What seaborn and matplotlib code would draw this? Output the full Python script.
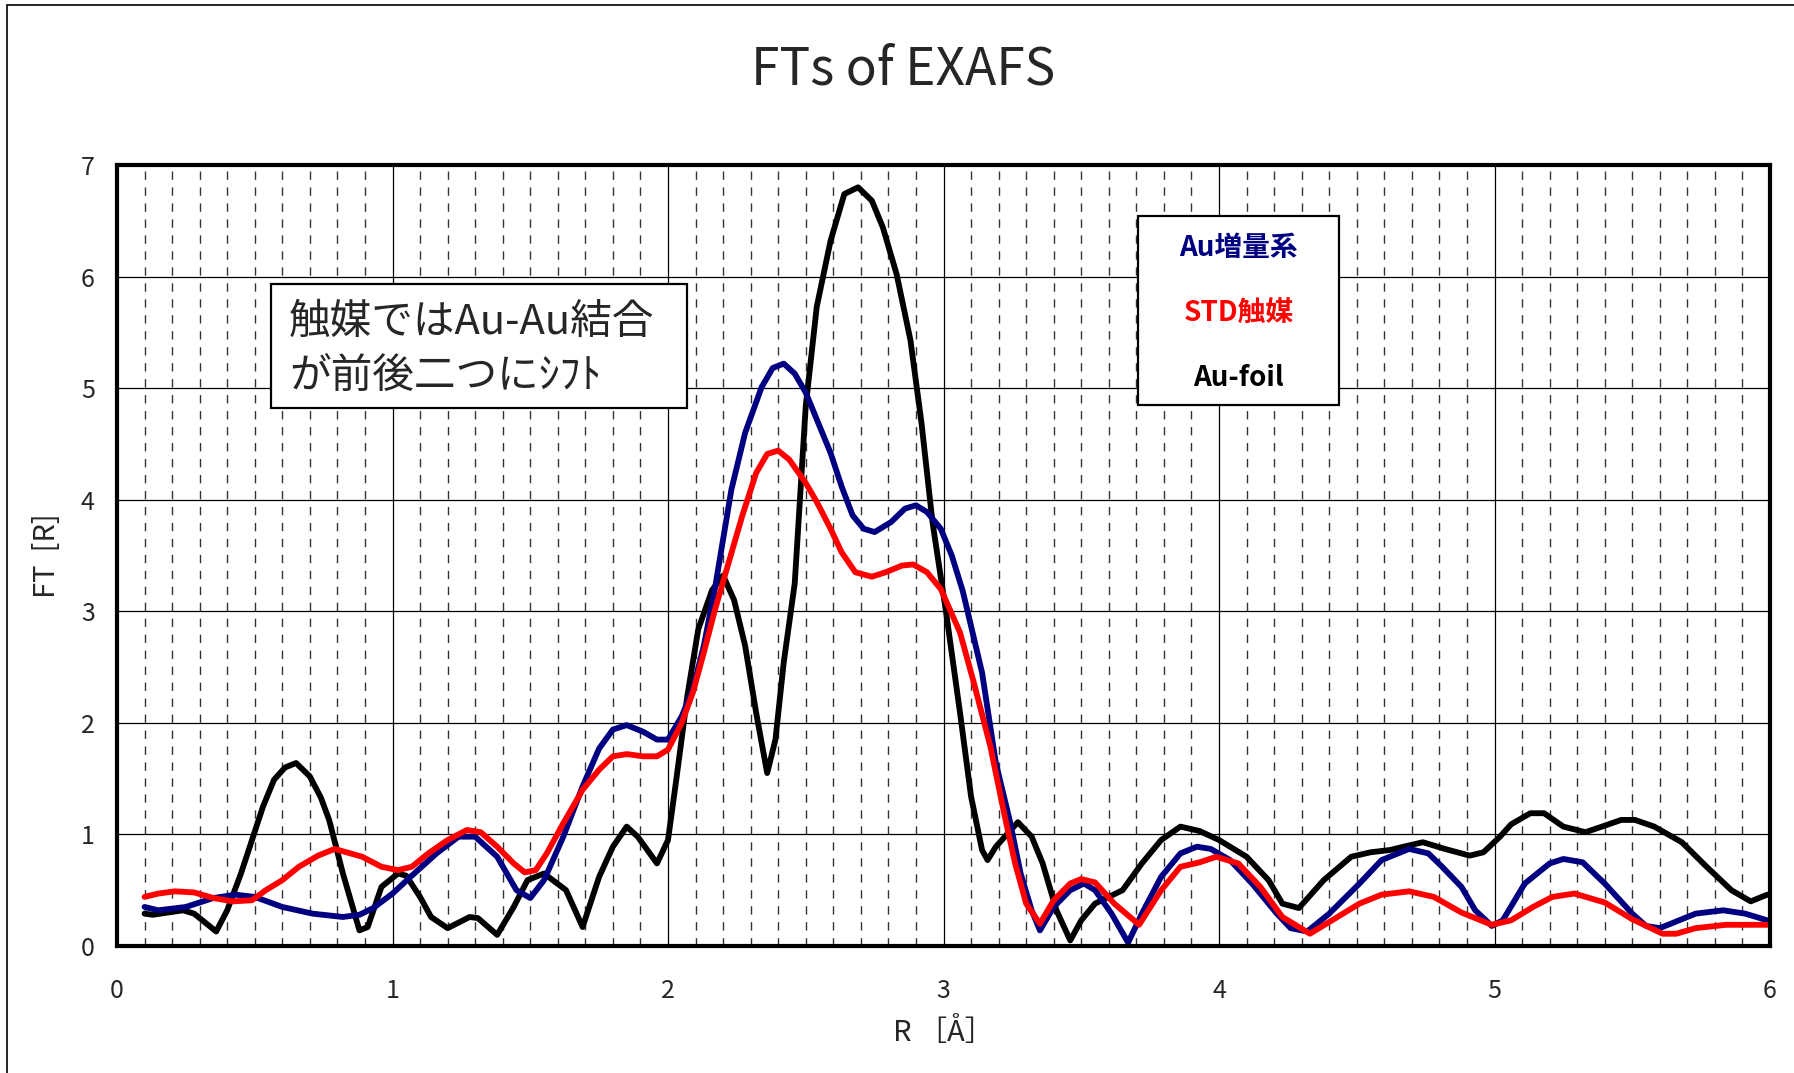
import numpy as np
import pandas as pd
import matplotlib.pyplot as plt
import seaborn as sns
from matplotlib.patches import Rectangle
from matplotlib.ticker import MultipleLocator

# --- データ ---
r_foil = [0.10, 0.13, 0.24, 0.28, 0.36, 0.40, 0.45, 0.49, 0.53, 0.57, 0.61, 0.65, 0.70, 0.74,
          0.77, 0.82, 0.88, 0.91, 0.96, 1.02, 1.05, 1.10, 1.14, 1.20, 1.28, 1.31, 1.38, 1.44,
          1.49, 1.55, 1.63, 1.69, 1.75, 1.80, 1.85, 1.89, 1.96, 2.00, 2.03, 2.07, 2.11, 2.16,
          2.20, 2.24, 2.28, 2.32, 2.36, 2.39, 2.42, 2.46, 2.50, 2.54, 2.59, 2.64, 2.69, 2.74,
          2.78, 2.83, 2.88, 2.92, 2.96, 3.01, 3.06, 3.10, 3.14, 3.16, 3.19, 3.27, 3.32, 3.36,
          3.41, 3.46, 3.50, 3.55, 3.65, 3.72, 3.79, 3.86, 3.93, 4.00, 4.10, 4.18, 4.23, 4.29,
          4.38, 4.48, 4.55, 4.62, 4.67, 4.74, 4.82, 4.91, 4.96, 5.02, 5.06, 5.13, 5.18, 5.25,
          5.33, 5.39, 5.46, 5.51, 5.58, 5.68, 5.77, 5.86, 5.93, 5.99]
ft_foil = [0.29, 0.28, 0.32, 0.29, 0.13, 0.32, 0.65, 0.95, 1.25, 1.49, 1.60, 1.64, 1.52, 1.33,
           1.13, 0.65, 0.14, 0.17, 0.53, 0.65, 0.63, 0.44, 0.26, 0.16, 0.26, 0.25, 0.10, 0.35,
           0.59, 0.65, 0.50, 0.17, 0.62, 0.89, 1.07, 0.98, 0.74, 0.95, 1.49, 2.24, 2.84, 3.19,
           3.32, 3.10, 2.69, 2.09, 1.55, 1.85, 2.54, 3.25, 4.84, 5.73, 6.32, 6.74, 6.80, 6.68,
           6.44, 6.02, 5.43, 4.69, 3.80, 2.98, 2.09, 1.34, 0.86, 0.77, 0.89, 1.11, 0.98, 0.74,
           0.32, 0.05, 0.23, 0.38, 0.50, 0.74, 0.95, 1.07, 1.03, 0.95, 0.80, 0.59, 0.38, 0.34,
           0.59, 0.80, 0.84, 0.86, 0.89, 0.93, 0.87, 0.81, 0.84, 0.98, 1.09, 1.19, 1.19, 1.07,
           1.02, 1.07, 1.13, 1.13, 1.07, 0.93, 0.71, 0.50, 0.40, 0.46]

r_au = [0.10, 0.15, 0.25, 0.35, 0.43, 0.50, 0.60, 0.71, 0.82, 0.88, 0.93, 1.00, 1.07, 1.16,
        1.24, 1.30, 1.38, 1.45, 1.50, 1.55, 1.62, 1.69, 1.75, 1.80, 1.85, 1.91, 1.96, 2.00,
        2.05, 2.09, 2.13, 2.17, 2.23, 2.28, 2.34, 2.38, 2.42, 2.46, 2.50, 2.54, 2.59, 2.63,
        2.67, 2.71, 2.75, 2.81, 2.86, 2.90, 2.94, 2.99, 3.03, 3.07, 3.14, 3.19, 3.24, 3.28,
        3.32, 3.35, 3.40, 3.46, 3.51, 3.55, 3.61, 3.67, 3.72, 3.79, 3.86, 3.92, 3.97, 4.04,
        4.12, 4.21, 4.26, 4.32, 4.40, 4.51, 4.59, 4.69, 4.76, 4.81, 4.88, 4.93, 4.99, 5.03,
        5.11, 5.20, 5.25, 5.32, 5.40, 5.50, 5.55, 5.60, 5.66, 5.73, 5.83, 5.91, 5.99]
ft_au = [0.35, 0.32, 0.35, 0.43, 0.46, 0.44, 0.35, 0.29, 0.26, 0.28, 0.34, 0.47, 0.63, 0.83,
         0.98, 0.98, 0.80, 0.50, 0.43, 0.59, 0.98, 1.43, 1.77, 1.94, 1.98, 1.92, 1.85, 1.85,
         2.06, 2.30, 2.69, 3.20, 4.09, 4.60, 5.01, 5.18, 5.22, 5.13, 4.96, 4.72, 4.42, 4.12,
         3.86, 3.74, 3.71, 3.80, 3.92, 3.95, 3.89, 3.74, 3.50, 3.18, 2.45, 1.64, 1.13, 0.65,
         0.32, 0.14, 0.35, 0.50, 0.56, 0.50, 0.29, 0.03, 0.29, 0.62, 0.83, 0.89, 0.87, 0.77,
         0.56, 0.29, 0.16, 0.13, 0.29, 0.56, 0.77, 0.87, 0.83, 0.71, 0.53, 0.32, 0.18, 0.23,
         0.56, 0.74, 0.78, 0.75, 0.56, 0.29, 0.18, 0.16, 0.22, 0.29, 0.32, 0.29, 0.23]

r_std = [0.10, 0.15, 0.21, 0.28, 0.35, 0.42, 0.49, 0.54, 0.60, 0.66, 0.73, 0.79, 0.89, 0.96,
         1.02, 1.07, 1.13, 1.20, 1.27, 1.32, 1.38, 1.44, 1.48, 1.52, 1.56, 1.62, 1.69, 1.75,
         1.80, 1.85, 1.91, 1.96, 2.00, 2.05, 2.09, 2.13, 2.17, 2.21, 2.27, 2.32, 2.36, 2.40,
         2.44, 2.50, 2.54, 2.59, 2.63, 2.68, 2.74, 2.79, 2.85, 2.89, 2.94, 2.99, 3.06, 3.11,
         3.17, 3.22, 3.26, 3.30, 3.35, 3.40, 3.46, 3.50, 3.55, 3.62, 3.71, 3.79, 3.86, 3.93,
         3.99, 4.07, 4.15, 4.23, 4.33, 4.41, 4.51, 4.59, 4.69, 4.78, 4.88, 4.99, 5.06, 5.14,
         5.21, 5.29, 5.40, 5.50, 5.61, 5.66, 5.73, 5.84, 6.00]
ft_std = [0.44, 0.47, 0.49, 0.48, 0.43, 0.40, 0.41, 0.50, 0.59, 0.71, 0.81, 0.87, 0.80, 0.71,
          0.68, 0.71, 0.83, 0.95, 1.04, 1.02, 0.89, 0.74, 0.66, 0.68, 0.83, 1.10, 1.40, 1.58,
          1.70, 1.72, 1.70, 1.70, 1.76, 2.00, 2.27, 2.63, 3.01, 3.35, 3.86, 4.24, 4.41, 4.44,
          4.36, 4.15, 3.98, 3.74, 3.53, 3.35, 3.31, 3.35, 3.41, 3.42, 3.35, 3.20, 2.81, 2.36,
          1.79, 1.19, 0.74, 0.38, 0.20, 0.41, 0.56, 0.60, 0.57, 0.38, 0.19, 0.50, 0.71, 0.75,
          0.80, 0.74, 0.53, 0.26, 0.11, 0.23, 0.38, 0.46, 0.49, 0.44, 0.30, 0.19, 0.23, 0.35,
          0.44, 0.47, 0.39, 0.24, 0.11, 0.11, 0.16, 0.19, 0.19]

series_names = ["Au増量系", "STD触媒", "Au-foil"]
series_colors = {"Au増量系": "#000080", "STD触媒": "#ff0000", "Au-foil": "#000000"}

df = pd.concat([
    pd.DataFrame({"R": r_foil, "FT": ft_foil, "series": "Au-foil"}),
    pd.DataFrame({"R": r_au, "FT": ft_au, "series": "Au増量系"}),
    pd.DataFrame({"R": r_std, "FT": ft_std, "series": "STD触媒"}),
], ignore_index=True)

sns.set_style("white")
plt.rcParams["font.family"] = ["Noto Sans CJK JP", "DejaVu Sans"]

W, H = 1794, 1073
fig = plt.figure(figsize=(W / 100, H / 100), dpi=100)
ax = fig.add_axes([117 / W, 1 - 946 / H, (1770 - 117) / W, (946 - 165) / H])

sns.lineplot(data=df, x="R", y="FT", hue="series", hue_order=["Au-foil", "Au増量系", "STD触媒"],
             palette=series_colors, lw=4.2, legend=False, estimator=None, sort=False, ax=ax,
             solid_joinstyle="round", solid_capstyle="round")

ax.set_xlim(0, 6)
ax.set_ylim(0, 7)
ax.xaxis.set_major_locator(MultipleLocator(1))
ax.yaxis.set_major_locator(MultipleLocator(1))
ax.set_xticks(np.arange(0.1, 6.0, 0.1), minor=True)
ax.grid(True, which="major", color="black", lw=0.9, zorder=0)
ax.grid(True, which="minor", axis="x", color="#333333", lw=1.0, ls=(0, (6, 5.5)), zorder=0)
ax.set_axisbelow(True)
ax.tick_params(axis="both", which="both", length=0, labelsize=18)
ax.tick_params(axis="y", pad=16)
ax.tick_params(axis="x", pad=23)
for s in ax.spines.values():
    s.set_visible(True)
    s.set_color("black")
    s.set_linewidth(3)

ax.set_xlabel("R ［Å］", fontsize=21)
ax.set_ylabel("FT  [R]", fontsize=21)
ax.xaxis.set_label_coords(0.5, -0.092)
ax.yaxis.set_label_coords(-0.033, 0.5)

fig.text(903 / W, 1 - 70 / H, "FTs of EXAFS", ha="center", va="center", fontsize=37)

# 注釈ボックス
ax.add_patch(Rectangle((0.0932, 0.6889), 0.2516, 0.1587, transform=ax.transAxes,
                       fc="white", ec="black", lw=1.6, zorder=5))
ax.text(0.1040, 0.799, "触媒ではAu-Au結合", transform=ax.transAxes, ha="left", va="center",
        fontsize=30, zorder=6)
ax.text(0.1040, 0.7286, "が前後二つにｼﾌﾄ", transform=ax.transAxes, ha="left", va="center",
        fontsize=30, zorder=6)

# 凡例
ax.add_patch(Rectangle((0.6177, 0.6927), 0.1216, 0.2420, transform=ax.transAxes,
                       fc="white", ec="black", lw=1.6, zorder=5))
for name, ypos in zip(series_names, [0.8937, 0.8105, 0.7273]):
    ax.text(0.6785, ypos, name, transform=ax.transAxes, ha="center", va="center",
            fontsize=20, fontweight="bold", color=series_colors[name], zorder=6)

# チャート外枠
fig.add_artist(Rectangle((7 / W, -0.1), 1.2, 1.1 - 5 / H, transform=fig.transFigure,
                         fill=False, ec="black", lw=1.2))

fig.savefig("out.png", dpi=100)
